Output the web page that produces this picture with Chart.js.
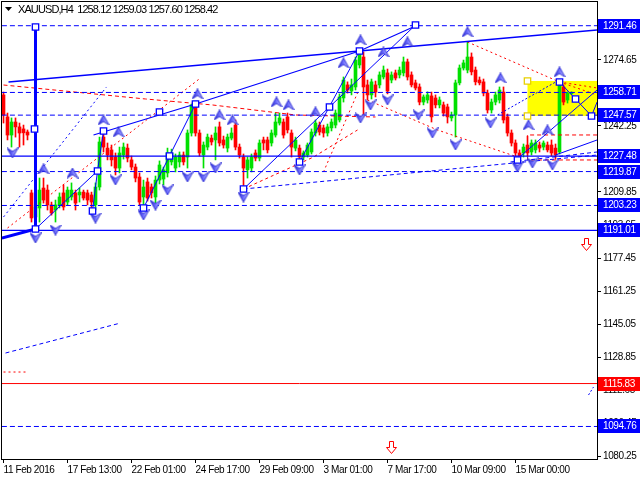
<!DOCTYPE html>
<html>
<head>
<meta charset="utf-8">
<script src="https://cdn.jsdelivr.net/npm/chart.js@4.4.0/dist/chart.umd.min.js"></script>
<style>
  body { margin: 0; background: #fff; }
  canvas { display: block; }
</style>
</head>
<body>
<canvas id="grafico" width="640" height="480"></canvas>
<script>
// Velas H4 de XAUUSD
let apertura = [
  1257.5, 1246.7, 1237.8, 1244.2, 1241.8, 1240.8, 1239.3, 1209.4, 1197.6, 1202.0,
  1211.8, 1210.8, 1203.5, 1201.0, 1203.5, 1209.4, 1204.9, 1207.4, 1209.4, 1208.4,
  1209.8, 1209.4, 1208.4, 1203.5, 1212.3, 1236.8, 1231.4, 1230.5, 1227.0, 1221.6,
  1228.0, 1231.4, 1225.6, 1222.1, 1217.2, 1207.4, 1214.8, 1212.3, 1207.4, 1215.7,
  1216.2, 1219.2, 1224.6, 1221.6, 1224.6, 1228.0, 1227.0, 1238.8, 1251.6, 1238.8,
  1228.0, 1231.9, 1236.3, 1235.4, 1241.8, 1235.4, 1231.4, 1236.3, 1242.7, 1231.9,
  1227.0, 1220.7, 1221.6, 1229.0, 1226.5, 1235.4, 1235.4, 1233.9, 1237.8, 1243.7,
  1244.2, 1246.7, 1238.8, 1231.4, 1231.4, 1227.0, 1228.0, 1229.5, 1238.8, 1242.7,
  1241.3, 1238.8, 1241.3, 1242.7, 1245.2, 1256.0, 1262.4, 1259.4, 1261.4, 1272.2,
  1276.1, 1262.4, 1257.5, 1262.4, 1262.4, 1266.3, 1268.3, 1264.8, 1268.3, 1267.3,
  1268.3, 1273.7, 1267.3, 1263.4, 1261.4, 1254.0, 1255.0, 1257.0, 1256.0, 1252.6,
  1252.6, 1251.6, 1246.2, 1247.6, 1263.4, 1270.7, 1269.7, 1276.1, 1269.7, 1264.8,
  1263.9, 1258.4, 1250.1, 1254.0, 1255.0, 1258.9, 1246.7, 1238.8, 1233.9, 1229.0,
  1229.0, 1232.9, 1229.5, 1230.5, 1232.9, 1231.9, 1232.9, 1232.9, 1231.4, 1229.5,
  1261.4, 1255.0, 1258.12
];
let maximo = [
  1258.9, 1248.6, 1246.2, 1246.2, 1243.7, 1242.7, 1240.3, 1210.8, 1205.0, 1216.7,
  1216.7, 1213.3, 1204.9, 1205.9, 1209.4, 1213.3, 1212.3, 1214.3, 1210.8, 1211.8,
  1210.8, 1210.8, 1209.8, 1214.3, 1236.8, 1240.3, 1233.9, 1232.9, 1229.0, 1231.9,
  1233.9, 1233.4, 1227.5, 1223.6, 1219.2, 1215.7, 1216.7, 1213.8, 1217.7, 1225.1,
  1222.1, 1231.4, 1230.9, 1228.5, 1229.5, 1229.5, 1240.3, 1253.0, 1253.5, 1240.3,
  1234.4, 1238.3, 1237.8, 1241.8, 1244.2, 1237.3, 1238.3, 1241.3, 1245.2, 1233.4,
  1228.5, 1227.0, 1228.5, 1230.5, 1235.4, 1236.8, 1236.8, 1240.3, 1248.6, 1248.6,
  1245.7, 1248.6, 1240.3, 1236.8, 1232.9, 1230.0, 1233.9, 1240.8, 1245.2, 1244.2,
  1242.7, 1243.2, 1245.7, 1250.1, 1258.0, 1266.3, 1263.9, 1265.3, 1276.1, 1279.6,
  1278.6, 1264.8, 1265.3, 1264.3, 1268.8, 1271.7, 1270.2, 1268.8, 1269.7, 1271.2,
  1276.1, 1275.1, 1268.8, 1264.8, 1262.9, 1257.5, 1259.0, 1258.9, 1257.5, 1256.5,
  1254.0, 1253.0, 1249.1, 1264.8, 1272.2, 1274.6, 1283.5, 1278.1, 1271.2, 1266.3,
  1265.3, 1259.9, 1255.5, 1258.9, 1261.4, 1261.4, 1248.1, 1240.3, 1235.4, 1230.5,
  1233.4, 1237.3, 1235.4, 1235.4, 1234.4, 1234.9, 1234.4, 1235.4, 1233.4, 1264.8,
  1262.4, 1259.0, 1259.03
];
let minimo = [
  1243.7, 1235.4, 1231.9, 1236.8, 1231.9, 1232.9, 1235.4, 1195.1, 1191.7, 1195.1,
  1204.4, 1201.0, 1198.5, 1195.1, 1202.0, 1201.0, 1203.5, 1205.9, 1201.0, 1204.9,
  1205.9, 1203.5, 1200.5, 1201.0, 1210.8, 1229.5, 1225.6, 1222.6, 1218.2, 1219.2,
  1226.0, 1224.6, 1220.7, 1214.8, 1203.5, 1202.0, 1205.4, 1206.9, 1204.4, 1213.8,
  1213.3, 1217.2, 1223.1, 1219.7, 1222.1, 1223.1, 1221.6, 1237.3, 1237.3, 1227.5,
  1221.6, 1230.5, 1232.9, 1225.6, 1232.4, 1231.4, 1229.5, 1235.4, 1230.5, 1226.5,
  1211.8, 1216.7, 1219.7, 1225.1, 1225.1, 1230.5, 1229.0, 1232.4, 1236.8, 1242.7,
  1236.3, 1238.8, 1227.0, 1230.0, 1224.6, 1225.6, 1227.0, 1228.5, 1237.3, 1237.8,
  1236.8, 1237.3, 1239.8, 1241.3, 1244.2, 1254.0, 1258.4, 1257.5, 1259.9, 1270.7,
  1246.7, 1255.0, 1255.5, 1256.5, 1260.9, 1265.3, 1258.0, 1263.4, 1264.8, 1265.8,
  1266.8, 1264.8, 1261.4, 1259.9, 1252.6, 1252.6, 1253.5, 1244.2, 1251.1, 1251.1,
  1247.1, 1243.7, 1244.7, 1236.8, 1262.4, 1269.7, 1268.3, 1267.3, 1262.4, 1262.4,
  1257.0, 1248.6, 1248.6, 1252.6, 1253.5, 1243.7, 1237.3, 1232.4, 1227.0, 1225.6,
  1227.0, 1227.5, 1228.0, 1229.0, 1229.5, 1230.5, 1229.5, 1227.5, 1226.0, 1228.5,
  1252.6, 1253.5, 1257.60
];
let cierre = [
  1247.6, 1237.8, 1244.2, 1241.8, 1238.8, 1238.9, 1237.8, 1197.1, 1202.5, 1210.8,
  1205.9, 1203.5, 1199.5, 1203.5, 1207.4, 1202.5, 1210.8, 1210.8, 1204.4, 1209.8,
  1206.9, 1205.9, 1204.9, 1212.3, 1234.4, 1231.9, 1228.0, 1225.6, 1221.6, 1229.0,
  1231.9, 1226.5, 1222.1, 1216.7, 1204.9, 1212.3, 1206.9, 1209.4, 1215.7, 1223.1,
  1220.7, 1229.0, 1229.0, 1227.0, 1228.0, 1224.6, 1238.8, 1252.6, 1238.8, 1229.0,
  1232.9, 1236.8, 1234.4, 1238.8, 1233.9, 1232.9, 1236.8, 1238.8, 1231.9, 1228.0,
  1221.6, 1225.6, 1227.0, 1226.5, 1233.9, 1233.9, 1230.5, 1238.8, 1244.2, 1246.2,
  1237.8, 1240.3, 1231.9, 1235.4, 1227.0, 1229.0, 1232.9, 1239.3, 1243.7, 1239.3,
  1238.8, 1241.8, 1244.2, 1248.6, 1256.5, 1264.8, 1259.9, 1262.4, 1274.6, 1278.1,
  1261.4, 1257.5, 1263.9, 1258.9, 1267.3, 1269.7, 1259.4, 1267.3, 1265.8, 1269.7,
  1273.7, 1266.3, 1262.4, 1260.9, 1254.0, 1256.5, 1257.5, 1246.7, 1252.6, 1255.0,
  1248.6, 1246.7, 1247.6, 1263.4, 1270.7, 1273.2, 1276.1, 1268.8, 1263.9, 1263.4,
  1258.4, 1250.1, 1254.0, 1257.5, 1259.9, 1245.2, 1238.8, 1233.9, 1229.0, 1227.0,
  1231.9, 1229.0, 1233.9, 1233.9, 1231.4, 1233.9, 1230.5, 1229.0, 1228.0, 1263.4,
  1254.0, 1258.4, 1258.42
];

// Eje de tiempo (indice de barra) y etiquetas
let posicionesX = [0, 16, 32, 48, 64, 80, 96, 112, 128];
let etiquetasX = ['11 Feb 2016', '17 Feb 13:00', '22 Feb 01:00', '24 Feb 17:00', '29 Feb 09:00',
  '3 Mar 01:00', '7 Mar 17:00', '10 Mar 09:00', '15 Mar 00:00'];
let ticksY = [1080.25, 1096.45, 1112.65, 1128.85, 1145.05, 1161.25, 1177.45, 1193.65,
  1209.85, 1226.05, 1242.25, 1258.45, 1274.65, 1290.85];

// Niveles horizontales
let nivelesDiscontinuos = [1291.46, 1258.71, 1247.57, 1219.87, 1203.23, 1094.76];
let nivelesSolidos = [1227.48, 1191.01];
let nivelRojo = [1115.83];

// Lineas de tendencia y ondas [barra, precio]
let lineaCanalSup = [[1.25, 1263.85], [148.4, 1289.37]];
let lineaOndaB = [[22.5, 1237.83], [48, 1253.05], [89, 1279.06], [103, 1291.34]];
let lineaOndaD = [[60, 1211.32], [103, 1291.83]];
let lineaOndaE = [[74, 1224.57], [89, 1279.06]];
let lineaOndaF = [[35, 1201.99], [48, 1253.05]];
let lineaOndaG = [[8, 1191.68], [23.5, 1220.16], [25, 1239.79]];
let lineaOndaH = [[22.25, 1200.52], [23.5, 1220.16]];
let lineaGruesa = [[-0.4, 1187.27], [8, 1191.68]];
let lineaVertical = [[8, 1290.85], [8, 1191.68]];
let lineaInfAzul = [[60, 1211.32], [148.4, 1228.0]];
let lineaInfAzul2 = [[126.75, 1224.57], [148.4, 1229.48]];
let lineaJ1 = [[129, 1227.03], [148.4, 1259.92]];
let lineaJ2 = [[138, 1228.01], [148.4, 1235.37]];
let lineaZigzag = [[139, 1263.85], [143, 1255.5], [147, 1247.16], [148.4, 1254.0]];
let lineaPuntosAzul = [[123.5, 1247.65], [138.5, 1264.34]];
let lineaPuntosIzq = [[0, 1197.58], [25.75, 1261.39]];
let lineaAbajoIzq = [[0.5, 1130.81], [29.25, 1145.54]];
let lineaAbajoDer = [[146.25, 1110.2], [147.5, 1114.12]];
let rojaR1 = [[0, 1262.37], [35.5, 1255.5], [52.25, 1252.56], [73, 1247.65], [93, 1246.66]];
let rojaR2 = [[1, 1192.17], [49.25, 1265.81]];
let rojaR4 = [[60, 1211.32], [77.5, 1227.0], [88.5, 1240.28]];
let rojaR5 = [[80, 1219.66], [88.5, 1258.45]];
let rojaR6 = [[91, 1255.0], [108.5, 1240.28], [128.5, 1227.03]];
let rojaR7 = [[116, 1283.48], [139, 1263.85], [148.4, 1257.46]];
let rojaR8 = [[139, 1263.85], [148.4, 1260.9]];
let rojaCaja = [[148.4, 1237.83], [131, 1237.83], [131, 1225.56], [148.4, 1225.56]];
let rojaCorta = [[0, 1121.49], [5.5, 1121.49]];

// Marcas de fractales
let flechasArriba = [[10, 1221.14], [17.25, 1219.17], [25, 1245.19], [28.75, 1239.3], [48.5, 1257.96],
  [54, 1247.65], [57.25, 1245.19], [68.25, 1254.03], [71.25, 1252.56], [78, 1249.12], [85, 1273.17],
  [89.25, 1284.46], [95, 1278.57], [101, 1283.48], [116, 1288.39], [124.25, 1265.81], [131.25, 1242.74],
  [136, 1240.28], [139, 1268.76]];
let flechasAbajo = [[2.25, 1228.99], [8, 1187.27], [13, 1191.19], [23, 1197.08], [28, 1215.74],
  [35, 1198.56], [38, 1203.46], [41, 1210.83], [46, 1217.21], [50, 1217.21], [53, 1221.63],
  [60, 1207.39], [74, 1220.65], [89.25, 1246.17], [91.75, 1252.56], [96, 1255.01], [103.75, 1247.65],
  [107.25, 1238.81], [113, 1232.92], [121.75, 1243.72], [128.5, 1222.12], [132.25, 1224.08], [137.25, 1223.1]];
let cuadros = [[8, 1290.85], [7.75, 1240.77], [8, 1191.68], [22.25, 1200.52], [23.5, 1220.16],
  [25, 1239.79], [35, 1201.99], [39, 1249.12], [41.5, 1227.52], [48, 1253.05], [60, 1211.32],
  [74, 1224.57], [81.5, 1251.57], [89, 1279.06], [103, 1291.83], [128.5, 1225.56], [139, 1263.85],
  [143, 1255.5], [147, 1247.16]];
let cuadrosAmarillos = [[131, 1264.34], [131, 1247.16]];
let flechasRojas = [[145.5, 1184.32], [96.75, 1084.67]];
let zonaAmarilla = [131, 1247.16, 1264.34];

let fuente = "'Liberation Sans', Arial, sans-serif";
let azul = '#0000ff';
let rojo = '#ff0000';

function puntos(arr) {
  return arr.map(p => ({ x: p[0], y: p[1] }));
}

function linea(arr, color, ancho, guion) {
  return {
    type: 'line', data: puntos(arr), borderColor: color, borderWidth: ancho,
    borderDash: guion || [], pointRadius: 0, fill: false, tension: 0, order: 5
  };
}

// Chevron azul de los fractales
function chevron(arriba) {
  let c = document.createElement('canvas');
  c.width = 12; c.height = 11;
  let g = c.getContext('2d');
  if (!arriba) { g.translate(0, 11); g.scale(1, -1); }
  let grad = g.createLinearGradient(0, 0, 12, 0);
  grad.addColorStop(0, '#2020c8');
  grad.addColorStop(0.5, '#7070ff');
  grad.addColorStop(1, '#e0e0ff');
  g.beginPath();
  g.moveTo(6, 0.5); g.lineTo(11.5, 10.5); g.lineTo(6, 7); g.lineTo(0.5, 10.5); g.closePath();
  g.fillStyle = grad; g.fill();
  g.strokeStyle = '#3030d8'; g.lineWidth = 1; g.stroke();
  return c;
}

function armarDatos() {
  let colores = apertura.map((o, i) => cierre[i] >= o ? '#00e000' : '#ff0000');
  let ds = [];

  // mechas
  ds.push({
    type: 'bar', data: apertura.map((o, i) => ({ x: i, y: [minimo[i], maximo[i]] })),
    backgroundColor: colores, barThickness: 1, grouped: false, order: 20
  });
  // cuerpos
  ds.push({
    type: 'bar', data: apertura.map((o, i) => ({ x: i, y: [Math.min(o, cierre[i]), Math.max(o, cierre[i])] })),
    backgroundColor: colores, barThickness: 3, minBarLength: 1, grouped: false, order: 19
  });

  nivelesDiscontinuos.forEach(v => ds.push(linea([[-0.4, v], [148.4, v]], azul, 1, [5, 3])));
  nivelesSolidos.forEach(v => ds.push(linea([[-0.4, v], [148.4, v]], azul, 1.3)));
  nivelRojo.forEach(v => ds.push(linea([[-0.4, v], [148.4, v]], rojo, 1)));

  ds.push(linea(lineaCanalSup, azul, 1.5));
  ds.push(linea(lineaOndaB, azul, 1.2));
  ds.push(linea(lineaOndaD, azul, 1));
  ds.push(linea(lineaOndaE, azul, 1));
  ds.push(linea(lineaOndaF, azul, 1));
  ds.push(linea(lineaOndaG, azul, 1));
  ds.push(linea(lineaOndaH, azul, 1));
  ds.push(linea(lineaGruesa, azul, 3));
  ds.push(linea(lineaVertical, azul, 3));
  ds.push(linea(lineaInfAzul, azul, 1, [4, 3]));
  ds.push(linea(lineaInfAzul2, azul, 1, [4, 3]));
  ds.push(linea(lineaJ1, azul, 1));
  ds.push(linea(lineaJ2, azul, 1));
  ds.push(linea(lineaZigzag, azul, 1));
  ds.push(linea(lineaPuntosAzul, azul, 1, [2, 2]));
  ds.push(linea(lineaPuntosIzq, azul, 1, [2, 3]));
  ds.push(linea(lineaAbajoIzq, azul, 1, [4, 3]));
  ds.push(linea(lineaAbajoDer, azul, 1, [2, 2]));

  ds.push(linea(rojaR1, rojo, 1, [4, 3]));
  ds.push(linea(rojaR2, rojo, 1, [2, 3]));
  ds.push(linea(rojaR4, rojo, 1, [3, 3]));
  ds.push(linea(rojaR5, rojo, 1, [2, 3]));
  ds.push(linea(rojaR6, rojo, 1, [2, 3]));
  ds.push(linea(rojaR7, rojo, 1, [2, 3]));
  ds.push(linea(rojaR8, rojo, 1, [2, 3]));
  ds.push(linea(rojaCaja, rojo, 1, [4, 3]));
  ds.push(linea(rojaCorta, rojo, 1, [2, 3]));

  ds.push({ type: 'scatter', data: puntos(flechasArriba), pointStyle: chevron(true), order: 2 });
  ds.push({ type: 'scatter', data: puntos(flechasAbajo), pointStyle: chevron(false), order: 2 });
  ds.push({
    type: 'scatter', data: puntos(cuadros), pointStyle: 'rect', pointRadius: 4.5,
    backgroundColor: '#ffffff', borderColor: azul, borderWidth: 1.3, order: 1
  });
  ds.push({
    type: 'scatter', data: puntos(cuadrosAmarillos), pointStyle: 'rect', pointRadius: 4.5,
    backgroundColor: '#ffffff', borderColor: '#e8d000', borderWidth: 1.3, order: 1
  });
  return ds;
}

// Dibujos extra: zona amarilla, flechas rojas, marco, etiquetas de nivel y titulo
let extras = {
  id: 'extras',
  beforeDraw(chart) {
    // letras un poco mas juntas, como en la fuente original
    chart.ctx.letterSpacing = '-0.4px';
  },
  beforeDatasetsDraw(chart) {
    let ctx = chart.ctx, sx = chart.scales.x, sy = chart.scales.y;
    let x0 = sx.getPixelForValue(zonaAmarilla[0]);
    let y0 = sy.getPixelForValue(zonaAmarilla[2]);
    let y1 = sy.getPixelForValue(zonaAmarilla[1]);
    ctx.save();
    ctx.fillStyle = '#ffff00';
    ctx.fillRect(x0, y0, chart.chartArea.right - x0, y1 - y0);
    ctx.restore();
  },
  afterDatasetsDraw(chart) {
    let ctx = chart.ctx, sx = chart.scales.x, sy = chart.scales.y;
    ctx.save();
    flechasRojas.forEach(f => {
      let x = Math.round(sx.getPixelForValue(f[0])) + 0.5;
      let y = Math.round(sy.getPixelForValue(f[1])) + 0.5;
      ctx.beginPath();
      ctx.moveTo(x - 2, y - 6); ctx.lineTo(x + 2, y - 6); ctx.lineTo(x + 2, y);
      ctx.lineTo(x + 5, y); ctx.lineTo(x, y + 6); ctx.lineTo(x - 5, y);
      ctx.lineTo(x - 2, y); ctx.closePath();
      ctx.fillStyle = '#ffffff'; ctx.fill();
      ctx.strokeStyle = rojo; ctx.lineWidth = 1; ctx.stroke();
    });
    ctx.restore();
  },
  afterDraw(chart) {
    let ctx = chart.ctx, sy = chart.scales.y, area = chart.chartArea;
    ctx.save();
    ctx.strokeStyle = '#000';
    ctx.lineWidth = 1;
    ctx.strokeRect(area.left - 0.5, area.top - 0.5, area.right - area.left + 1, area.bottom - area.top + 1);

    // etiquetas de niveles en el eje derecho
    ctx.font = '10px ' + fuente;
    ctx.textBaseline = 'middle';
    let todos = nivelesDiscontinuos.concat(nivelesSolidos).map(v => [v, azul]).concat(nivelRojo.map(v => [v, rojo]));
    todos.forEach(n => {
      let y = Math.round(sy.getPixelForValue(n[0]));
      ctx.fillStyle = n[1];
      ctx.fillRect(area.right + 1, y - 7, 640 - area.right - 1, 14);
      ctx.fillStyle = '#ffffff';
      ctx.fillText(n[0].toFixed(2), area.right + 6, y + 0.5);
    });

    // titulo
    ctx.fillStyle = '#000';
    ctx.beginPath();
    ctx.moveTo(5, 7); ctx.lineTo(12, 7); ctx.lineTo(8.5, 11); ctx.closePath();
    ctx.fill();
    ctx.font = '11px ' + fuente;
    ctx.letterSpacing = '-0.9px';
    ctx.fillText('XAUUSD,H4  1258.12 1259.03 1257.60 1258.42', 18, 10);
    ctx.restore();
  }
};

function graficoVelas() {
  let ctx = document.getElementById('grafico').getContext('2d');
  new Chart(ctx, {
    type: 'bar',
    data: { datasets: armarDatos() },
    options: {
      responsive: false,
      animation: false,
      events: [],
      layout: { autoPadding: false, padding: { left: 2, top: 2, right: 0, bottom: 0 } },
      plugins: { legend: { display: false }, tooltip: { enabled: false } },
      scales: {
        x: {
          type: 'linear', position: 'bottom', min: -0.375, max: 148.375, offset: false,
          afterBuildTicks: s => { s.ticks = posicionesX.map(v => ({ value: v })); },
          afterFit: s => { s.height = 21; s.paddingLeft = 0; s.paddingRight = 0; },
          ticks: {
            callback: (v, i) => etiquetasX[i], align: 'start', maxRotation: 0, autoSkip: false,
            color: '#000', font: { family: fuente, size: 10 }, padding: 1
          },
          grid: { drawOnChartArea: false, tickLength: 4, color: '#000', offset: false },
          border: { color: '#000' }
        },
        y: {
          type: 'linear', position: 'right', min: 1078.8, max: 1303.1,
          afterBuildTicks: s => { s.ticks = ticksY.map(v => ({ value: v })); },
          afterFit: s => { s.width = 43; s.paddingTop = 0; s.paddingBottom = 0; },
          ticks: {
            callback: v => v.toFixed(2), color: '#000', font: { family: fuente, size: 10 }, padding: 2
          },
          grid: { drawOnChartArea: false, tickLength: 4, color: '#000' },
          border: { color: '#000' }
        }
      }
    },
    plugins: [extras]
  });
}

graficoVelas();
</script>
</body>
</html>
